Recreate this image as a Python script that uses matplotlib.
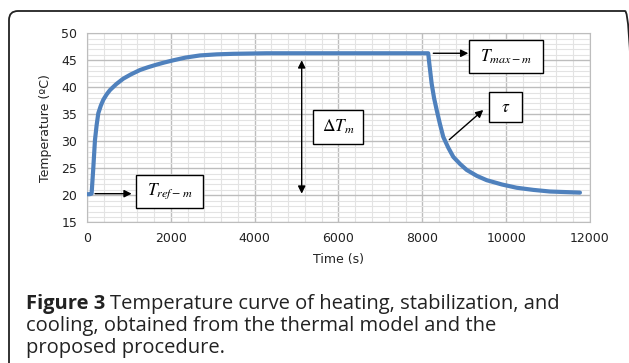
import numpy as np
import matplotlib
matplotlib.use("Agg")
import matplotlib.pyplot as plt
from matplotlib.patches import FancyBboxPatch, Rectangle
from matplotlib.transforms import ScaledTranslation
from matplotlib.ticker import MultipleLocator

plt.rcParams['font.family'] = ['DejaVu Sans']
plt.rcParams['mathtext.fontset'] = 'stix'

# curve: time (s) and temperature (C)
time_s = [0, 60, 110, 150, 190, 230, 270, 330, 390, 470, 550, 700, 866,
          1050, 1264, 1450, 1662, 1850, 2060, 2350, 2696, 3100, 3491, 4287,
          5000, 6000, 7000, 8000, 8140, 8165, 8222, 8280, 8342, 8420, 8500,
          8620, 8740, 8900, 9058, 9300, 9535, 9900, 10250, 10650, 11045,
          11400, 11760]
temp_c = [20.2, 20.2, 20.3, 25.0, 30.2, 33.0, 35.2, 36.6, 37.7, 38.7, 39.5,
          40.6, 41.6, 42.4, 43.2, 43.7, 44.2, 44.6, 45.0, 45.5, 45.9, 46.1,
          46.2, 46.3, 46.3, 46.3, 46.3, 46.3, 46.3, 44.5, 40.7, 38.0, 35.8,
          33.2, 30.8, 28.8, 27.1, 25.8, 24.7, 23.6, 22.8, 22.0, 21.4, 21.0,
          20.7, 20.6, 20.5]

xticks = [0, 2000, 4000, 6000, 8000, 10000, 12000]
yticks = [15, 20, 25, 30, 35, 40, 45, 50]

fig = plt.figure(figsize=(6.29, 3.63), dpi=100)

# rounded frame around figure + caption
frame = FancyBboxPatch((0.09, -0.3), 6.25, 3.82, boxstyle="round,pad=0,rounding_size=0.09",
                       transform=fig.dpi_scale_trans, fc='none', ec='#222222', lw=1.3)
fig.patches.append(frame)

ax = fig.add_axes([0.1383, 0.3876, 0.7997, 0.5207])
ax.set_facecolor('white')
ax.plot(time_s, temp_c, color='#4f81bd', lw=3, solid_capstyle='round', zorder=3)

ax.set_xlim(0, 12000)
ax.set_ylim(15, 50)
ax.set_xticks(xticks)
ax.set_yticks(yticks)
ax.xaxis.set_minor_locator(MultipleLocator(400))
ax.yaxis.set_minor_locator(MultipleLocator(1))
ax.grid(which='major', color='#bdbdbd', lw=1.0)
ax.grid(which='minor', color='#e3e3e3', lw=0.8)
ax.set_axisbelow(True)
ax.tick_params(which='both', length=0, labelsize=9, colors='#222222', pad=7)
for s in ax.spines.values():
    s.set_color('#bdbdbd')

ax.set_xlabel('Time (s)', fontsize=9, color='#222222', labelpad=6)
ax.set_ylabel('Temperature (ºC)', fontsize=9, color='#222222', labelpad=7)


def label_box(x, y, txt, w, h):
    # box of fixed pixel size centred on a data point
    tr = fig.dpi_scale_trans + ScaledTranslation(x, y, ax.transData)
    ax.add_patch(Rectangle((-w / 200, -h / 200), w / 100, h / 100, transform=tr,
                           fc='white', ec='black', lw=1, zorder=5, clip_on=False))
    ax.text(x, y, txt, fontsize=12.5, ha='center', va='center', zorder=6)


arr = dict(arrowstyle='-|>', color='black', lw=1, mutation_scale=11, shrinkA=0, shrinkB=0)

label_box(1968, 20.7, r'$T_{ref-m}$', 67, 33)
ax.annotate('', xy=(1066, 20.3), xytext=(191, 20.3), arrowprops=arr, zorder=4)

ax.annotate('', xy=(5122, 20.3), xytext=(5122, 45.0),
            arrowprops=dict(arr, arrowstyle='<|-|>'), zorder=4)
label_box(5995, 32.65, r'$\Delta T_m$', 50, 34)

label_box(9990, 45.7, r'$T_{max-m}$', 74, 33)
ax.annotate('', xy=(9097, 46.3), xytext=(8262, 46.3), arrowprops=arr, zorder=4)

label_box(9980, 36.35, r'$\tau$', 33, 30)
ax.annotate('', xy=(9454, 35.8), xytext=(8643, 30.3), arrowprops=arr, zorder=4)

# caption
capfont = dict(fontsize=14.5, family='Open Sans', color='#222222', va='baseline')
cap = fig.text(26 / 629, 1 - 308.5 / 363, 'Figure 3', fontweight='bold', **capfont)
fig.canvas.draw()
bb = cap.get_window_extent()
fig.text((bb.x1 + 5) / fig.bbox.width, 1 - 308.5 / 363,
         'Temperature curve of heating, stabilization, and', **capfont)
fig.text(26 / 629, 1 - 331 / 363, 'cooling, obtained from the thermal model and the', **capfont)
fig.text(26 / 629, 1 - 353.5 / 363, 'proposed procedure.', **capfont)

fig.savefig('out.png', dpi=100)
